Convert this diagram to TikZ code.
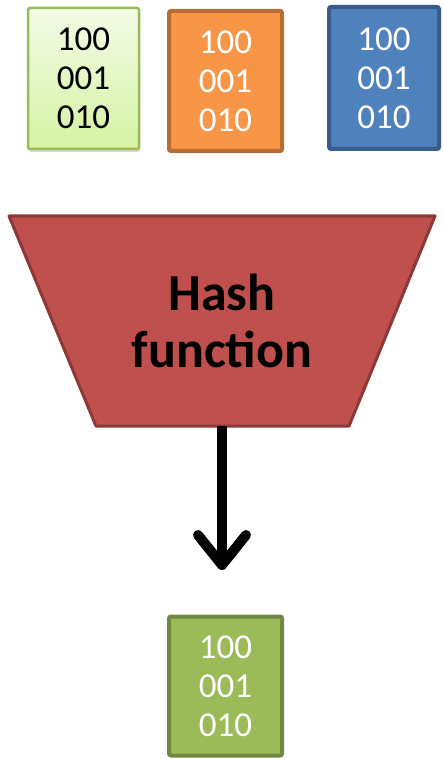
\documentclass[tikz,border=0pt]{standalone}
\usepackage{fontspec}
\setmainfont{Carlito}
\usetikzlibrary{arrows.meta,shadows}

\definecolor{lgtop}{HTML}{F3FBE6}
\definecolor{lgbot}{HTML}{D5F3A4}
\definecolor{lgline}{HTML}{9BBB59}
\definecolor{orfill}{HTML}{F79646}
\definecolor{orline}{HTML}{B66D31}
\definecolor{blfill}{HTML}{4F81BD}
\definecolor{blline}{HTML}{385D8A}
\definecolor{rdfill}{HTML}{C0504D}
\definecolor{rdline}{HTML}{8C3836}
\definecolor{gnfill}{HTML}{9BBB59}
\definecolor{gnline}{HTML}{71893F}

\tikzset{
  bits/.style={rectangle, rounded corners=2pt, align=center, inner sep=0pt,
    minimum width=113pt, minimum height=140pt, line width=4pt,
    font=\fontsize{35}{39}\selectfont, text=white},
  hashtext/.style={align=center, inner sep=0pt,
    font=\fontsize{52}{57}\selectfont\bfseries},
}

\begin{document}
\begin{tikzpicture}[x=1pt,y=1pt]
\useasboundingbox (0,0) rectangle (442,-759);
%----------inputs------------------------------
\node[bits, top color=lgtop, bottom color=lgbot, draw=lgline, line width=2.5pt,
  text=black, minimum width=111pt, minimum height=141pt,
  drop shadow={shadow xshift=1pt, shadow yshift=-3pt, opacity=0.3}]
  (in1) at (83.5,-78.5) {100\\001\\010};
\node[bits, fill=orfill, draw=orline] (in2) at (225.5,-81) {100\\001\\010};
\node[bits, fill=blfill, draw=blline, minimum width=110pt, minimum height=142pt]
  (in3) at (384,-78) {100\\001\\010};
%----------hash--------------------------------
\draw[fill=rdfill, draw=rdline, line width=3pt, line join=round]
  (9,-216) -- (435,-216) -- (349,-426) -- (96,-426) -- cycle;
\coordinate (hashout) at (222,-426);
\node[hashtext] (hash) at (222,-321) {Hash\\function};
%----------output------------------------------
\coordinate (tip) at (222,-570);
\draw[line width=10pt, -{Straight Barb[length=30pt, width=48pt, round]}]
  (hashout) -- (tip);
\node[bits, fill=gnfill, draw=gnline, minimum height=139pt]
  (out) at (225.5,-686) {100\\001\\010};
\end{tikzpicture}
\end{document}
